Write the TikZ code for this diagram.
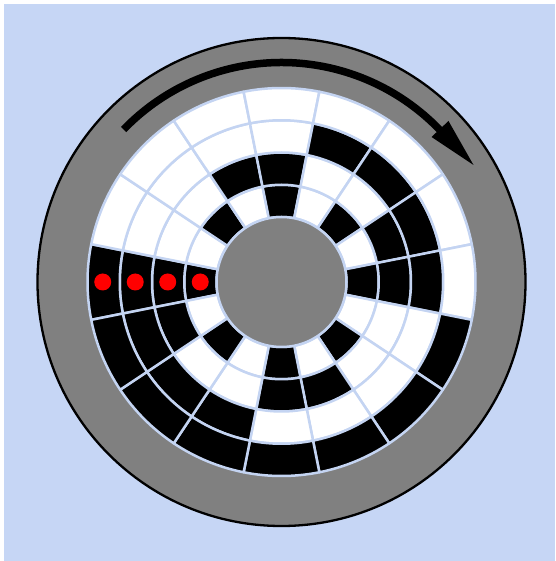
\documentclass[tikz,border=0pt]{standalone}
\definecolor{bgblue}{HTML}{C6D6F5}
\definecolor{wheelgray}{HTML}{808080}
\definecolor{spoke}{HTML}{C4D4F2}
\tikzset{
  cellline/.style={draw=spoke,line width=2.5pt,line join=round},
  rotor/.style={fill=wheelgray,draw=black,line width=2.3pt},
  hub/.style={fill=wheelgray,draw=spoke,line width=2.5pt},
  reddot/.style={fill=red,draw=none},
  motion/.style={draw=black,line width=7.5pt}
}
\begin{document}
\begin{tikzpicture}[x=1pt,y=1pt]
\useasboundingbox (-281.5,-279) rectangle (273.5,282);
\fill[bgblue] (-277.5,-279) rectangle (273.5,278);
\path[rotor] (0,0) circle (244pt);
\foreach \i/\ca/\cb/\cc/\cd in {
 0/black/black/black/black,
 1/white/white/white/white,
 2/black/white/white/white,
 3/white/black/white/white,
 4/black/black/white/white,
 5/white/white/black/white,
 6/black/white/black/white,
 7/white/black/black/white,
 8/black/black/black/white,
 9/white/white/white/black,
 10/black/white/white/black,
 11/white/black/white/black,
 12/black/black/white/black,
 13/white/white/black/black,
 14/black/white/black/black,
 15/white/black/black/black}{
  \pgfmathsetmacro{\aone}{180-22.5*\i+11.25}
  \pgfmathsetmacro{\atwo}{180-22.5*\i-11.25}
  \foreach \rin/\rout/\col in {65/97.25/\ca,97.25/129.5/\cb,129.5/161.75/\cc,161.75/194/\cd}{
    \path[cellline,fill=\col] (\aone:\rin pt) arc[start angle=\aone,end angle=\atwo,radius=\rin pt]
      -- (\atwo:\rout pt) arc[start angle=\atwo,end angle=\aone,radius=\rout pt] -- cycle;
  }
}
\path[hub] (0,0) circle (65pt);
\foreach \r in {81.25,113.75,146.25,178.75}{
  \path[reddot] (-\r,0) circle (8.5pt);
}
\draw[motion] (136:219.5pt) arc[start angle=136,end angle=42,radius=219.5pt];
\fill[black] (167,161) -- (150,145) -- (192,117) -- cycle;
\end{tikzpicture}
\end{document}
